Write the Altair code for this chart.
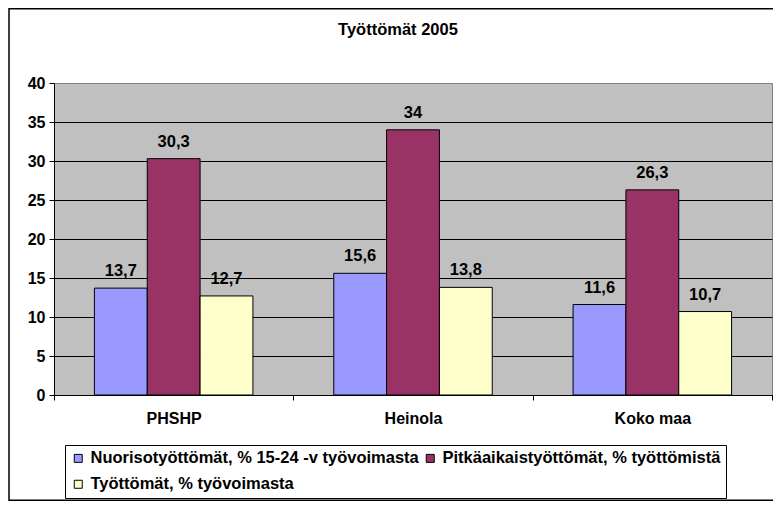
import altair as alt
import pandas as pd

categories = ["PHSHP", "Heinola", "Koko maa"]
series = [
    "Nuorisotyöttömät, % 15-24 -v työvoimasta",
    "Pitkäaikaistyöttömät, % työttömistä",
    "Työttömät, % työvoimasta",
]
nuoriso = [13.7, 15.6, 11.6]
pitka = [30.3, 34, 26.3]
tyottomat = [12.7, 13.8, 10.7]
colors = ["#9999FF", "#993366", "#FFFFCC"]
y_ticks = [0, 5, 10, 15, 20, 25, 30, 35, 40]

rows = []
for s, vals in zip(series, [nuoriso, pitka, tyottomat]):
    for c, v in zip(categories, vals):
        rows.append({"alue": c, "sarja": s, "arvo": v,
                     "teksti": f"{v:g}".replace(".", ",")})
df = pd.DataFrame(rows)

FONT = "Liberation Sans"

x_enc = alt.X(
    "alue:N", sort=categories,
    scale=alt.Scale(paddingInner=0, paddingOuter=0),
    axis=alt.Axis(title=None, labelAngle=0, tickBand="extent",
                  domainColor="black", tickColor="black", tickSize=5,
                  labelPadding=10, labelFont=FONT, labelFontSize=16,
                  labelFontWeight="bold", labelColor="black", grid=False),
)
xo_enc = alt.XOffset("sarja:N", sort=series,
                     scale=alt.Scale(paddingInner=0, paddingOuter=0.765))
y_enc = alt.Y(
    "arvo:Q", scale=alt.Scale(domain=[0, 40]),
    axis=alt.Axis(title=None, values=y_ticks, grid=True,
                  gridColor={"condition": {"test": "datum.value >= 40", "value": "#808080"},
                             "value": "black"},
                  gridWidth=1, domainColor="black", tickColor="black", tickSize=5,
                  labelPadding=4, labelFont=FONT, labelFontSize=16,
                  labelFontWeight="bold", labelColor="black"),
)

bars = alt.Chart(df).mark_bar(stroke="black", strokeWidth=1).encode(
    x=x_enc, xOffset=xo_enc, y=y_enc,
    color=alt.Color(
        "sarja:N", scale=alt.Scale(domain=series, range=colors),
        legend=alt.Legend(
            title=None, orient="none", legendX=11, legendY=362, columns=2,
            direction="horizontal",
            symbolType="square", symbolSize=64, symbolStrokeColor="black",
            symbolStrokeWidth=1, symbolOpacity=1, labelFont=FONT, labelFontSize=16.5,
            labelFontWeight="bold", labelColor="black", labelLimit=600,
            labelOffset=4, columnPadding=3, rowPadding=9, padding=5,
            strokeColor="black", fillColor="white",
        ),
    ),
)

labels = alt.Chart(df).mark_text(
    dy=-12, baseline="alphabetic", font=FONT, fontSize=16.5,
    fontWeight="bold", color="black",
).encode(x=x_enc, xOffset=xo_enc, y=y_enc, text="teksti:N")

frame = alt.Chart(pd.DataFrame({"k": [0]})).mark_rect(
    fillOpacity=0, stroke="black", strokeWidth=1.5,
).encode(x=alt.value(-45), x2=alt.value(730), y=alt.value(-74.25), y2=alt.value(417.25))

chart = alt.layer(frame, bars, labels).properties(
    width=718, height=312,
    title=alt.TitleParams("Työttömät 2005", font=FONT, fontSize=16.5,
                          fontWeight="bold", anchor="middle", frame="group",
                          dx=-15, offset=-43, baseline="alphabetic", color="black"),
    autosize=alt.AutoSizeParams(type="none"),
    padding={"left": 46, "top": 75, "right": 1, "bottom": 106},
).configure_view(fill="#C0C0C0", stroke="#808080", strokeWidth=1)

chart.save("out.html", embed_options={"renderer": "svg", "actions": False})
